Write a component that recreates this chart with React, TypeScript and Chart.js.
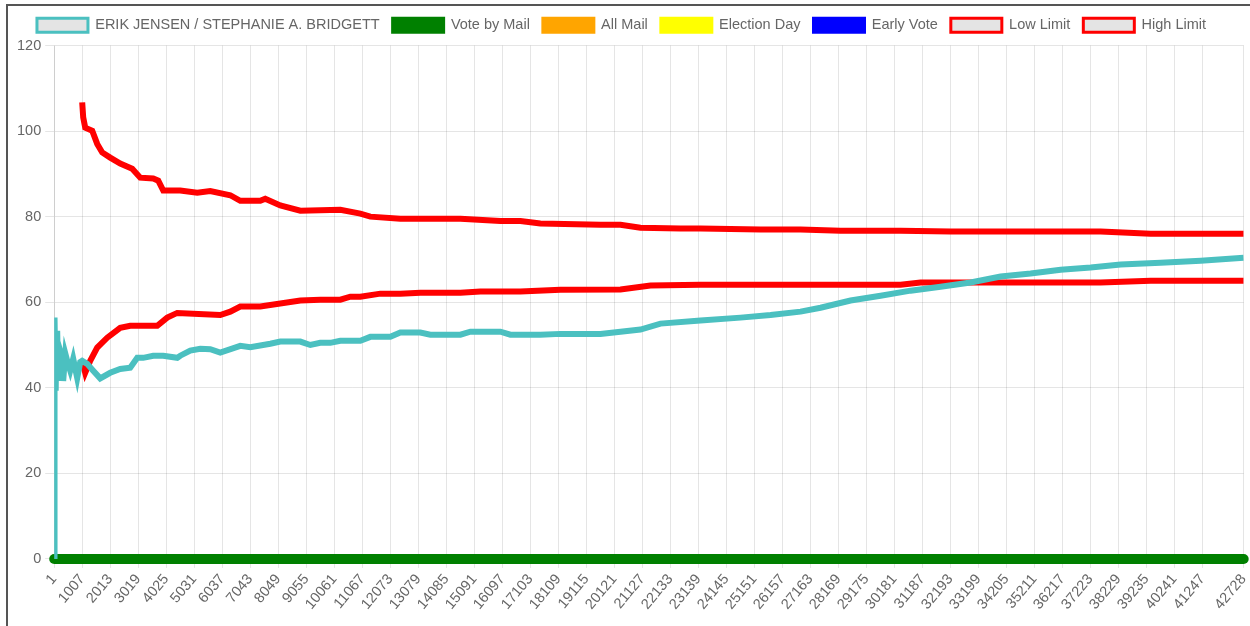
import React, { useEffect, useRef } from 'react';
import { Chart, registerables } from 'chart.js';

Chart.register(...registerables);

const xTickValues = [
  1, 1007, 2013, 3019, 4025, 5031, 6037, 7043, 8049, 9055, 10061, 11067, 12073, 13079,
  14085, 15091, 16097, 17103, 18109, 19115, 20121, 21127, 22133, 23139, 24145, 25151,
  26157, 27163, 28169, 29175, 30181, 31187, 32193, 33199, 34205, 35211, 36217, 37223,
  38229, 39235, 40241, 41247, 42728,
];

const yTickValues = [0, 20, 40, 60, 80, 100, 120];

const seriesLabels = [
  'ERIK JENSEN / STEPHANIE A. BRIDGETT',
  'Vote by Mail',
  'All Mail',
  'Election Day',
  'Early Vote',
  'Low Limit',
  'High Limit',
];

const candidateData: [number, number][] = [
  [1, 0], [4, 20], [8, 36], [12, 44], [18, 52], [25, 56.4], [40, 45], [55, 39.3], [75, 50],
  [109, 53.3], [145, 41.6], [200, 49], [289, 47], [324, 41.6], [400, 48], [468, 46.3],
  [576, 44], [684, 46.8], [828, 42.3], [935, 46], [1007, 46.3], [1187, 45.6], [1403, 44],
  [1654, 42.2], [2013, 43.5], [2373, 44.4], [2732, 44.7], [2984, 47], [3199, 47],
  [3559, 47.5], [3918, 47.5], [4421, 47], [4529, 47.5], [4888, 48.7], [5248, 49.1],
  [5607, 49], [5966, 48.2], [6685, 49.8], [7045, 49.5], [7763, 50.3], [8123, 50.8],
  [8842, 50.8], [9201, 50], [9560, 50.5], [9919, 50.5], [10279, 51], [10998, 51],
  [11357, 51.9], [12075, 51.9], [12435, 52.9], [13154, 52.9], [13513, 52.4], [14593, 52.4],
  [14952, 53.1], [16029, 53.1], [16388, 52.4], [17466, 52.4], [18185, 52.6], [19623, 52.6],
  [20342, 53.1], [21060, 53.6], [21779, 55], [23216, 55.7], [24654, 56.4], [25732, 57],
  [26810, 57.8], [27528, 58.7], [28607, 60.4], [29685, 61.5], [30763, 62.7], [31841, 63.6],
  [32919, 64.6], [33997, 66], [35075, 66.7], [36153, 67.6], [37231, 68.1], [38309, 68.8],
  [39746, 69.2], [41184, 69.7], [42728, 70.4],
];

const voteByMailData: [number, number][] = [[1, 0], [42728, 0]];
const allMailData: [number, number][] = [];
const electionDayData: [number, number][] = [];
const earlyVoteData: [number, number][] = [];

const lowLimitData: [number, number][] = [
  [1007, 46.3], [1115, 43.5], [1295, 46.3], [1546, 49.4], [1906, 51.7], [2373, 54],
  [2732, 54.5], [3199, 54.5], [3703, 54.5], [4062, 56.4], [4421, 57.5], [5966, 57],
  [6326, 57.8], [6685, 59], [7404, 59], [8842, 60.4], [9560, 60.6], [10279, 60.6],
  [10638, 61.3], [10998, 61.3], [11716, 62], [12435, 62], [13154, 62.2], [14593, 62.2],
  [15310, 62.5], [16748, 62.5], [18185, 62.9], [20342, 63], [21420, 63.9], [23216, 64.1],
  [30403, 64.1], [31122, 64.6], [37590, 64.6], [39387, 65], [42728, 65],
];

const highLimitData: [number, number][] = [
  [1007, 106.7], [1043, 103.2], [1115, 100.8], [1367, 100.1], [1546, 97], [1726, 95],
  [2013, 93.8], [2373, 92.4], [2804, 91.2], [3092, 89.1], [3559, 88.9], [3739, 88.4],
  [3918, 86.1], [4529, 86.1], [5140, 85.6], [5607, 86], [6326, 85], [6685, 83.7],
  [7404, 83.7], [7583, 84.2], [8123, 82.6], [8842, 81.4], [10279, 81.6], [10998, 80.7],
  [11357, 80], [12435, 79.5], [14593, 79.5], [16029, 79], [16748, 79], [17466, 78.4],
  [19623, 78.1], [20342, 78.1], [21060, 77.4], [22498, 77.2], [23216, 77.2], [25372, 77],
  [26810, 77], [28247, 76.7], [30403, 76.7], [32200, 76.5], [37590, 76.5], [39387, 76],
  [42728, 76],
];

const toPoints = (d: [number, number][]) => d.map(([x, y]) => ({ x, y }));

const legendTweak = {
  id: 'legendTweak',
  beforeInit(chart: any) {
    const legend = chart.legend;
    if (!legend) return;
    const origFit = legend.fit;
    legend.fit = function () {
      origFit.call(this);
      this.height += 2;
    };
  },
  afterLayout(chart: any) {
    const legend = chart.legend;
    if (!legend) return;
    legend.left -= 15;
    legend.right -= 15;
    legend.top -= 1;
    legend.bottom -= 1;
  },
};

export default function App() {
  const ref = useRef<HTMLCanvasElement | null>(null);

  useEffect(() => {
    if (!ref.current) return;
    Chart.defaults.font.family = 'Arial, "Liberation Sans", sans-serif';
    Chart.defaults.color = '#666';
    const legendFill = '#e4e4e4';
    const teal = 'rgb(75, 192, 192)';
    const red = 'rgb(255, 0, 0)';
    const chart = new Chart(ref.current, {
      type: 'line',
      plugins: [legendTweak],
      data: {
        datasets: [
          {
            label: seriesLabels[0], data: toPoints(candidateData), borderColor: teal,
            backgroundColor: legendFill, borderWidth: 6, pointRadius: 0, fill: false,
          },
          {
            label: seriesLabels[1], data: toPoints(voteByMailData), borderColor: 'rgb(0,128,0)',
            backgroundColor: 'rgb(0,128,0)', borderWidth: 10, pointRadius: 5,
            pointBorderWidth: 0, pointBackgroundColor: 'rgb(0,128,0)', fill: false, clip: false,
          },
          {
            label: seriesLabels[2], data: toPoints(allMailData), borderColor: 'rgb(255,165,0)',
            backgroundColor: 'rgb(255,165,0)', borderWidth: 3, pointRadius: 0,
          },
          {
            label: seriesLabels[3], data: toPoints(electionDayData), borderColor: 'rgb(255,255,0)',
            backgroundColor: 'rgb(255,255,0)', borderWidth: 3, pointRadius: 0,
          },
          {
            label: seriesLabels[4], data: toPoints(earlyVoteData), borderColor: 'rgb(0,0,255)',
            backgroundColor: 'rgb(0,0,255)', borderWidth: 3, pointRadius: 0,
          },
          {
            label: seriesLabels[5], data: toPoints(lowLimitData), borderColor: red,
            backgroundColor: legendFill, borderWidth: 6, pointRadius: 0, fill: false,
          },
          {
            label: seriesLabels[6], data: toPoints(highLimitData), borderColor: red,
            backgroundColor: legendFill, borderWidth: 6, pointRadius: 0, fill: false,
          },
        ],
      },
      options: {
        animation: false,
        responsive: true,
        maintainAspectRatio: false,
        layout: { padding: { left: 5, right: 0, top: 0, bottom: 0 } },
        plugins: {
          tooltip: { enabled: false },
          legend: {
            position: 'top',
            labels: {
              boxWidth: 51,
              boxHeight: 14,
              padding: 13,
              font: { size: 14.5 },
              color: '#666',
              generateLabels: (c: any) => {
                const items = Chart.defaults.plugins.legend.labels.generateLabels(c);
                return items.map((it: any) => ({ ...it, lineWidth: 3 }));
              },
            },
          },
        },
        scales: {
          x: {
            type: 'linear',
            min: 1,
            max: 42728,
            afterBuildTicks: (scale: any) => {
              scale.ticks = xTickValues.map((v) => ({ value: v }));
            },
            ticks: {
              autoSkip: false,
              minRotation: 50,
              maxRotation: 50,
              font: { size: 14.5 },
              color: '#666',
              padding: 3,
              callback: (v: any) => String(v),
            },
            grid: { color: 'rgba(0,0,0,0.1)', tickLength: 9 },
          },
          y: {
            min: 0,
            max: 120,
            afterBuildTicks: (scale: any) => {
              scale.ticks = yTickValues.map((v) => ({ value: v }));
            },
            ticks: { font: { size: 14.5 }, color: '#666', padding: 4 },
            grid: { color: 'rgba(0,0,0,0.1)', tickLength: 9 },
          },
        },
      },
    });
    return () => chart.destroy();
  }, []);

  return (
    <div
      style={{
        position: 'fixed',
        left: 6,
        top: 4,
        right: 0,
        bottom: 0,
        overflow: 'hidden',
        borderLeft: '2px solid #555',
        borderTop: '2px solid #555',
      }}
    >
      <div style={{ position: 'relative', width: 1252, height: 610 }}>
        <canvas ref={ref} />
      </div>
    </div>
  );
}
